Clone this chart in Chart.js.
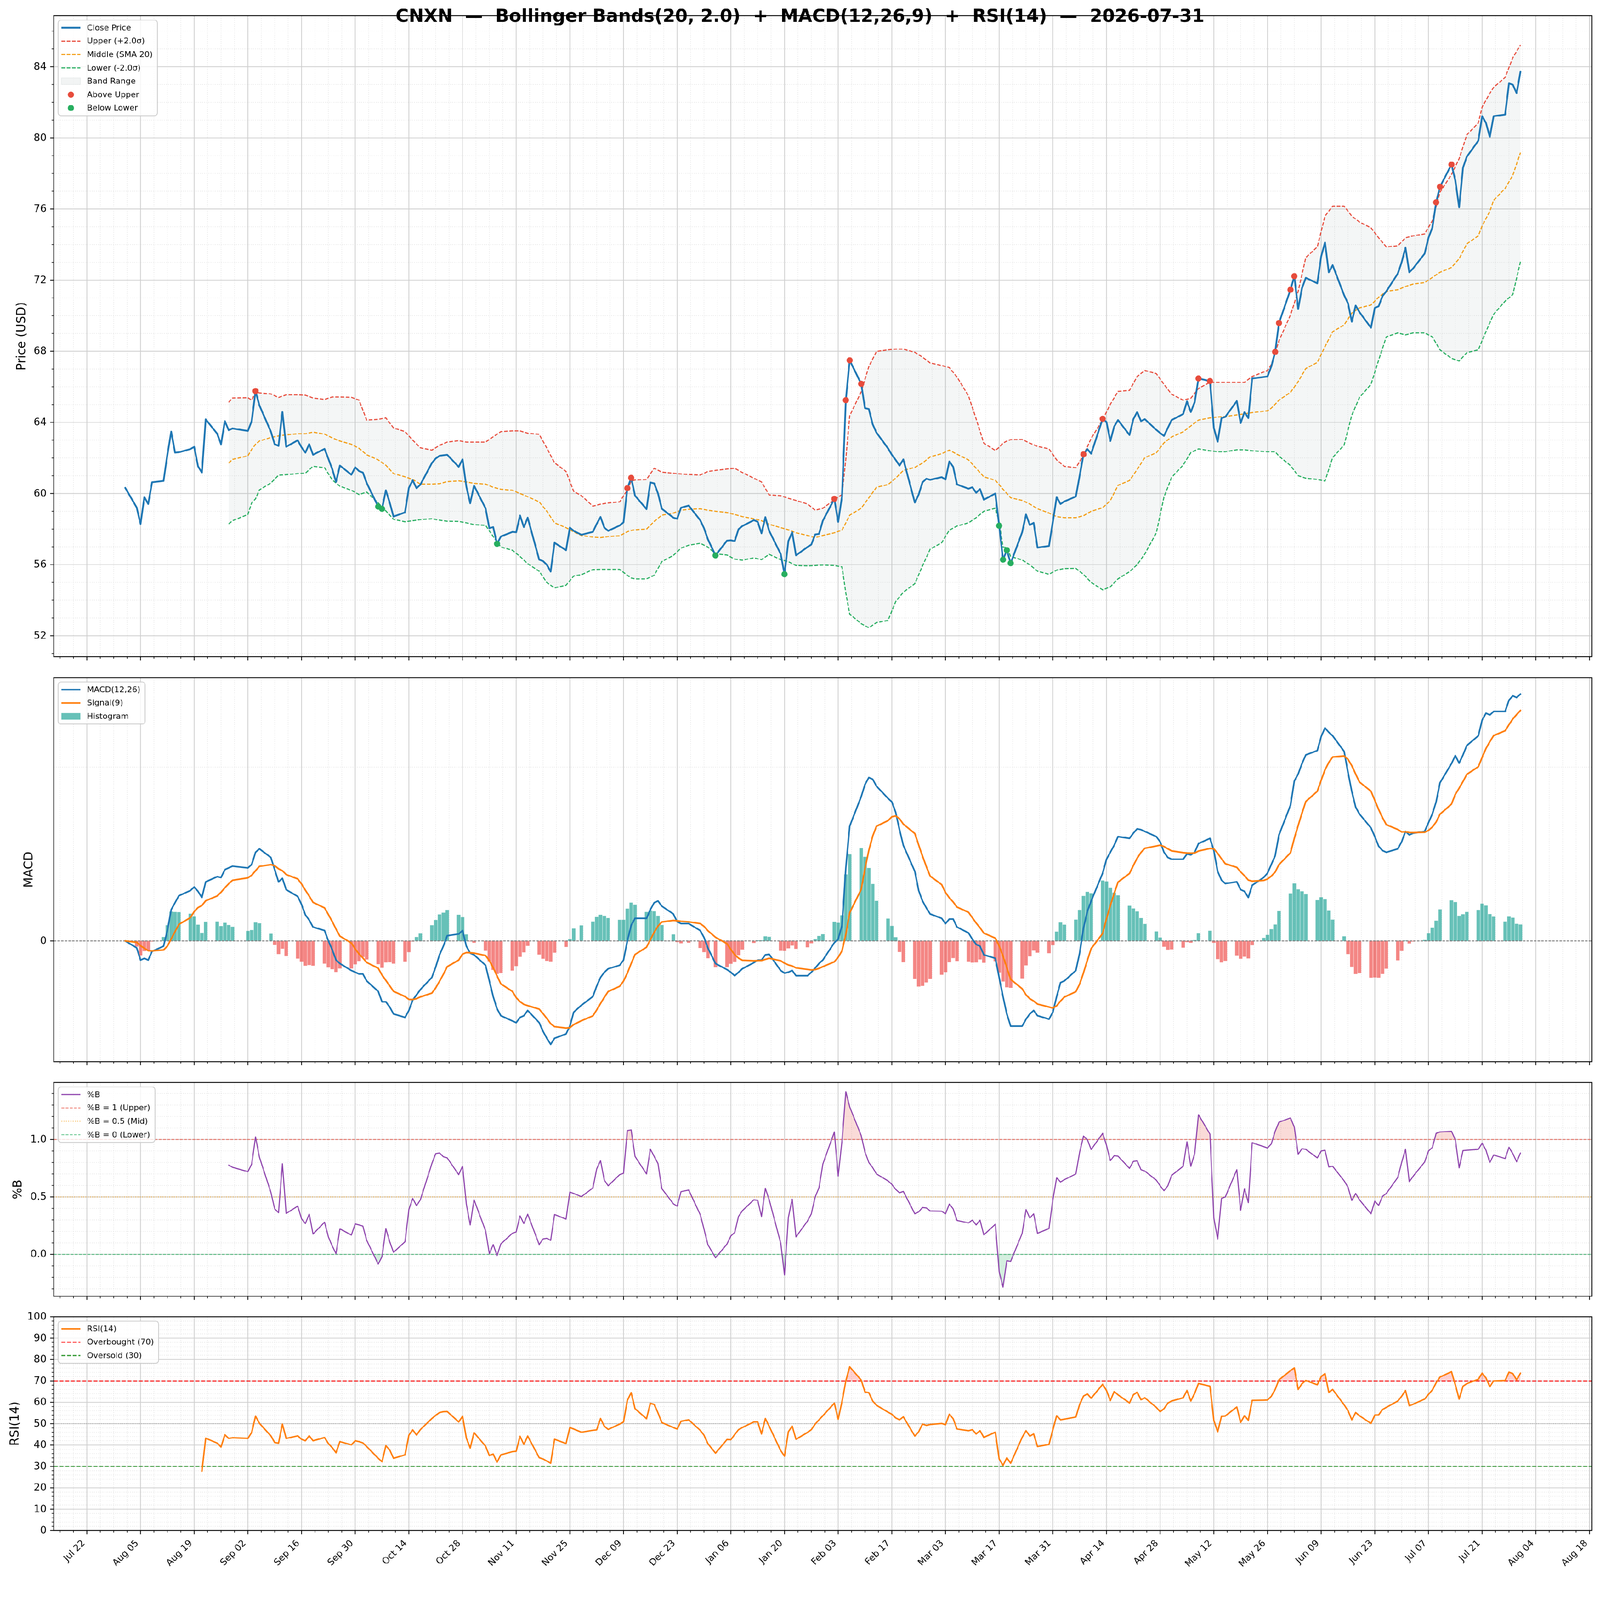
<!DOCTYPE html>
<html><head><meta charset="utf-8">
<script src="https://cdn.jsdelivr.net/npm/chart.js@4.4.1/dist/chart.umd.min.js"></script>
<style>
html,body{margin:0;padding:0;background:#fff;font-family:"DejaVu Sans",sans-serif;overflow:hidden;}
#stage{position:absolute;left:0;top:0;width:4378px;height:4322px;transform-origin:0 0;background:#fff;}
#stage canvas{position:absolute;left:0;}
</style></head><body>
<div id="stage">
<canvas id="cPrice"></canvas>
<canvas id="cMacd"></canvas>
<canvas id="cPctb"></canvas>
<canvas id="cRsi"></canvas>
</div>
<script>
// ---------------- DATA ----------------
const titleText = 'CNXN  \u2014  Bollinger Bands(20, 2.0)  +  MACD(12,26,9)  +  RSI(14)  \u2014  2026-07-31';

const dates = [
'2025-08-01','2025-08-04','2025-08-05','2025-08-06','2025-08-07','2025-08-08','2025-08-11','2025-08-12','2025-08-13','2025-08-14','2025-08-15','2025-08-18','2025-08-19','2025-08-20','2025-08-21','2025-08-22','2025-08-25','2025-08-26','2025-08-27','2025-08-28','2025-08-29',
'2025-09-02','2025-09-03','2025-09-04','2025-09-05','2025-09-08','2025-09-09','2025-09-10','2025-09-11','2025-09-12','2025-09-15','2025-09-16','2025-09-17','2025-09-18','2025-09-19','2025-09-22','2025-09-23','2025-09-24','2025-09-25','2025-09-26','2025-09-29','2025-09-30',
'2025-10-01','2025-10-02','2025-10-03','2025-10-06','2025-10-07','2025-10-08','2025-10-09','2025-10-10','2025-10-13','2025-10-14','2025-10-15','2025-10-16','2025-10-17','2025-10-20','2025-10-21','2025-10-22','2025-10-23','2025-10-24','2025-10-27','2025-10-28','2025-10-29','2025-10-30','2025-10-31',
'2025-11-03','2025-11-04','2025-11-05','2025-11-06','2025-11-07','2025-11-10','2025-11-11','2025-11-12','2025-11-13','2025-11-14','2025-11-17','2025-11-18','2025-11-19','2025-11-20','2025-11-21','2025-11-24','2025-11-25','2025-11-26','2025-11-28',
'2025-12-01','2025-12-02','2025-12-03','2025-12-04','2025-12-05','2025-12-08','2025-12-09','2025-12-10','2025-12-11','2025-12-12','2025-12-15','2025-12-16','2025-12-17','2025-12-18','2025-12-19','2025-12-22','2025-12-23','2025-12-24','2025-12-26','2025-12-29','2025-12-30','2025-12-31',
'2026-01-02','2026-01-05','2026-01-06','2026-01-07','2026-01-08','2026-01-09','2026-01-12','2026-01-13','2026-01-14','2026-01-15','2026-01-16','2026-01-19','2026-01-20','2026-01-21','2026-01-22','2026-01-23','2026-01-26','2026-01-27','2026-01-28','2026-01-29','2026-01-30',
'2026-02-02','2026-02-03','2026-02-04','2026-02-05','2026-02-06','2026-02-09','2026-02-10','2026-02-11','2026-02-12','2026-02-13','2026-02-16','2026-02-17','2026-02-18','2026-02-19','2026-02-20','2026-02-23','2026-02-24','2026-02-25','2026-02-26','2026-02-27',
'2026-03-02','2026-03-03','2026-03-04','2026-03-05','2026-03-06','2026-03-09','2026-03-10','2026-03-11','2026-03-12','2026-03-13','2026-03-16','2026-03-17','2026-03-18','2026-03-19','2026-03-20','2026-03-23','2026-03-24','2026-03-25','2026-03-26','2026-03-27','2026-03-30','2026-03-31',
'2026-04-01','2026-04-02','2026-04-03','2026-04-06','2026-04-07','2026-04-08','2026-04-09','2026-04-10','2026-04-13','2026-04-14','2026-04-15','2026-04-16','2026-04-17','2026-04-20','2026-04-21','2026-04-22','2026-04-23','2026-04-24','2026-04-27','2026-04-28','2026-04-29','2026-04-30',
'2026-05-01','2026-05-04','2026-05-05','2026-05-06','2026-05-07','2026-05-08','2026-05-11','2026-05-12','2026-05-13','2026-05-14','2026-05-15','2026-05-18','2026-05-19','2026-05-20','2026-05-21','2026-05-22','2026-05-25','2026-05-26','2026-05-27','2026-05-28','2026-05-29',
'2026-06-01','2026-06-02','2026-06-03','2026-06-04','2026-06-05','2026-06-08','2026-06-09','2026-06-10','2026-06-11','2026-06-12','2026-06-15','2026-06-16','2026-06-17','2026-06-18','2026-06-19','2026-06-22','2026-06-23','2026-06-24','2026-06-25','2026-06-26','2026-06-29','2026-06-30',
'2026-07-01','2026-07-02','2026-07-03','2026-07-06','2026-07-07','2026-07-08','2026-07-09','2026-07-10','2026-07-13','2026-07-14','2026-07-15','2026-07-16','2026-07-17','2026-07-20','2026-07-21','2026-07-22','2026-07-23','2026-07-24','2026-07-27','2026-07-28','2026-07-29','2026-07-30','2026-07-31'
];

const closePrice = [
60.32,59.21,58.29,59.80,59.41,60.63,60.71,62.18,63.48,62.30,62.32,62.50,62.62,61.53,61.18,64.17,63.36,62.77,64.07,63.56,63.66,
63.52,64.07,65.76,64.96,63.48,62.77,62.68,64.60,62.63,62.99,62.60,62.30,62.77,62.18,62.51,61.95,61.38,60.65,61.57,61.06,61.47,
61.26,61.18,60.59,59.26,59.14,60.18,59.49,58.70,58.94,60.32,60.74,60.30,60.50,61.71,61.97,62.12,62.15,62.18,61.50,61.92,60.39,59.45,60.44,
59.17,58.05,58.11,57.17,57.58,57.84,57.82,58.76,58.11,58.64,56.28,56.20,55.99,55.61,57.23,56.81,58.08,57.90,57.68,
57.84,58.29,58.68,58.08,57.90,58.20,58.38,60.30,60.88,59.88,59.12,60.62,60.57,60.00,59.14,58.64,58.58,59.20,59.32,58.50,58.05,57.43,
56.52,57.35,57.37,57.32,57.99,58.17,58.50,58.41,57.76,58.67,57.90,56.60,55.46,57.32,57.82,56.52,56.99,57.13,57.70,57.73,58.47,
59.70,58.40,59.82,65.25,67.49,66.17,64.80,64.75,63.89,63.42,62.54,62.18,61.89,61.57,61.92,59.49,59.94,60.63,60.83,60.77,
60.92,60.79,61.80,61.50,60.51,60.27,60.35,60.04,60.25,59.65,60.00,58.19,56.28,56.81,56.08,57.82,58.82,58.23,58.35,56.96,57.05,58.40,
59.80,59.41,59.55,59.83,61.00,62.20,62.50,62.24,64.20,64.02,62.95,63.76,64.13,63.29,64.18,64.58,64.07,64.18,63.58,63.40,63.24,63.69,
64.13,64.47,65.18,64.58,65.14,66.47,66.32,63.69,62.91,64.24,64.31,65.20,63.96,64.58,64.24,66.47,66.55,66.58,67.14,67.96,69.59,
71.46,72.22,70.37,71.55,72.13,71.82,73.33,74.11,72.44,72.84,71.15,70.70,69.66,70.57,70.20,69.32,70.44,70.53,71.10,71.37,72.37,73.00,
73.82,72.44,72.66,73.49,74.38,74.94,76.38,77.25,78.50,77.61,76.09,78.32,78.94,79.84,81.22,80.84,80.06,81.22,81.31,83.06,82.99,82.51,83.73
];

const bandDates = [
'2025-08-28','2025-08-29','2025-09-02','2025-09-03','2025-09-04','2025-09-05','2025-09-08','2025-09-10','2025-09-12','2025-09-15','2025-09-17','2025-09-19','2025-09-22','2025-09-24','2025-09-26','2025-09-29',
'2025-10-01','2025-10-03','2025-10-06','2025-10-08','2025-10-10','2025-10-13','2025-10-15','2025-10-17','2025-10-20','2025-10-22','2025-10-24','2025-10-27','2025-10-29','2025-10-31',
'2025-11-03','2025-11-05','2025-11-07','2025-11-10','2025-11-12','2025-11-14','2025-11-17','2025-11-19','2025-11-21','2025-11-24','2025-11-26','2025-11-28',
'2025-12-01','2025-12-03','2025-12-05','2025-12-08','2025-12-10','2025-12-11','2025-12-12','2025-12-15','2025-12-17','2025-12-19','2025-12-22','2025-12-24','2025-12-26','2025-12-29','2025-12-31',
'2026-01-02','2026-01-05','2026-01-07','2026-01-09','2026-01-12','2026-01-14','2026-01-16','2026-01-19','2026-01-21','2026-01-23','2026-01-26','2026-01-28','2026-01-30',
'2026-02-02','2026-02-04','2026-02-05','2026-02-06','2026-02-09','2026-02-11','2026-02-13','2026-02-16','2026-02-18','2026-02-20','2026-02-23','2026-02-25','2026-02-27',
'2026-03-02','2026-03-04','2026-03-06','2026-03-09','2026-03-11','2026-03-13','2026-03-16','2026-03-17','2026-03-18','2026-03-19','2026-03-20','2026-03-23','2026-03-25','2026-03-27','2026-03-30',
'2026-04-01','2026-04-03','2026-04-06','2026-04-08','2026-04-10','2026-04-13','2026-04-15','2026-04-17','2026-04-20','2026-04-22','2026-04-24','2026-04-27','2026-04-29',
'2026-05-01','2026-05-04','2026-05-06','2026-05-08','2026-05-11','2026-05-13','2026-05-15','2026-05-18','2026-05-20','2026-05-22','2026-05-26','2026-05-27','2026-05-28','2026-05-29',
'2026-06-01','2026-06-03','2026-06-05','2026-06-08','2026-06-10','2026-06-12','2026-06-15','2026-06-17','2026-06-19','2026-06-22','2026-06-24','2026-06-26','2026-06-29',
'2026-07-01','2026-07-03','2026-07-06','2026-07-08','2026-07-10','2026-07-13','2026-07-15','2026-07-17','2026-07-20','2026-07-21','2026-07-23','2026-07-24','2026-07-27','2026-07-29','2026-07-31'
];
const upperBand = [
65.13,65.37,65.39,65.25,65.70,65.66,65.60,65.40,65.55,65.55,65.53,65.37,65.29,65.43,65.43,65.41,
65.25,64.13,64.17,64.25,63.69,63.48,63.00,62.57,62.44,62.71,62.89,62.97,62.89,62.89,
62.89,63.19,63.48,63.52,63.52,63.39,63.33,62.55,61.73,61.24,60.12,59.88,
59.29,59.40,59.47,59.53,60.20,60.70,60.76,60.79,61.42,61.20,61.14,61.10,61.07,61.04,61.24,
61.30,61.38,61.42,61.18,60.86,60.65,59.92,59.88,59.73,59.61,59.41,59.06,59.17,
59.65,59.94,61.95,64.37,65.72,67.14,67.99,68.08,68.12,68.12,67.94,67.67,67.34,
67.20,67.08,66.55,65.49,64.19,62.83,62.42,62.60,62.83,62.95,63.03,63.04,62.83,62.65,62.51,
61.89,61.53,61.45,62.15,63.10,64.15,65.02,65.74,65.80,66.58,66.92,66.74,66.14,
65.58,65.25,65.36,65.91,66.25,66.25,66.25,66.25,66.25,66.58,66.92,67.25,67.92,68.59,
70.04,71.37,73.27,73.87,75.60,76.16,76.16,75.60,75.27,74.94,74.38,73.87,73.93,
74.38,74.49,74.60,75.34,76.94,77.94,78.83,80.17,80.84,81.73,82.51,82.84,83.40,84.51,85.22
];
const middleBand = [
61.71,61.92,62.12,62.48,62.77,62.95,63.15,63.24,63.30,63.36,63.36,63.45,63.34,63.13,62.95,62.77,
62.54,62.18,61.89,61.59,61.12,60.94,60.79,60.53,60.53,60.55,60.67,60.71,60.65,60.57,
60.53,60.35,60.24,60.18,60.00,59.82,59.53,59.00,58.35,58.08,57.84,57.64,
57.55,57.52,57.58,57.62,57.85,57.92,57.96,58.00,58.43,58.78,58.90,59.06,59.11,59.14,59.06,
59.00,58.93,58.82,58.70,58.58,58.47,58.27,58.08,57.96,57.79,57.64,57.52,57.64,
57.79,57.94,58.35,58.78,59.17,59.76,60.35,60.50,60.86,61.30,61.47,61.71,62.06,
62.24,62.44,62.21,61.89,61.42,60.94,60.74,60.50,60.24,60.00,59.76,59.61,59.41,59.14,58.90,
58.70,58.64,58.64,58.75,59.00,59.20,59.60,60.46,60.73,61.35,62.02,62.29,62.85,
63.18,63.47,63.80,64.13,64.25,64.30,64.33,64.42,64.48,64.55,64.65,64.80,65.02,65.25,
65.69,66.29,67.03,67.37,68.26,69.10,69.48,70.15,70.44,70.60,71.04,71.37,71.46,
71.64,71.78,71.86,72.15,72.44,72.71,73.20,74.04,74.49,75.05,75.87,76.49,77.16,77.90,79.17
];
const lowerBand = [
58.29,58.47,58.82,59.47,59.70,60.20,60.59,61.03,61.06,61.12,61.14,61.53,61.45,60.77,60.41,60.18,
59.94,60.08,59.47,59.02,58.55,58.41,58.47,58.53,58.58,58.50,58.44,58.43,58.35,58.25,
58.21,57.58,56.99,56.81,56.46,56.05,55.63,54.99,54.69,54.84,55.36,55.43,
55.72,55.73,55.73,55.73,55.40,55.25,55.20,55.20,55.40,56.17,56.52,56.93,57.09,57.20,56.99,
56.61,56.54,56.31,56.25,56.38,56.28,56.58,56.28,56.17,55.95,55.93,55.95,55.98,
55.95,55.87,54.40,53.22,52.68,52.45,52.74,52.86,53.92,54.45,54.93,55.93,56.87,
57.23,57.94,58.17,58.35,58.64,59.00,59.17,58.40,56.99,56.95,56.46,56.26,55.99,55.63,55.46,
55.69,55.78,55.79,55.45,55.00,54.58,54.75,55.20,55.60,56.00,56.60,57.79,59.80,
60.91,61.60,62.30,62.51,62.40,62.35,62.35,62.46,62.46,62.40,62.35,62.35,62.35,62.10,
61.57,61.00,60.86,60.79,60.70,62.02,62.73,64.40,65.40,66.14,67.50,68.81,69.03,
68.92,69.03,69.03,68.81,68.08,67.60,67.45,67.92,68.08,68.60,69.60,70.08,70.82,71.19,73.04
];

const aboveUpperDates = ['2025-09-04','2025-12-10','2025-12-11','2026-02-02','2026-02-05','2026-02-06','2026-02-09','2026-04-08','2026-04-13','2026-05-08','2026-05-11','2026-05-28','2026-05-29','2026-06-01','2026-06-02','2026-07-09','2026-07-10','2026-07-13'];
const belowLowerDates = ['2025-10-06','2025-10-07','2025-11-06','2026-01-02','2026-01-20','2026-03-17','2026-03-18','2026-03-19','2026-03-20'];

const macdLine = [
0.00,-0.04,-0.11,-0.10,-0.11,-0.06,-0.03,0.06,0.18,0.22,0.26,0.29,0.31,0.285,0.25,0.34,0.37,0.365,0.41,0.42,0.43,
0.42,0.44,0.51,0.53,0.48,0.41,0.34,0.36,0.295,0.256,0.21,0.15,0.12,0.08,0.06,0.00,-0.05,-0.11,-0.13,-0.17,-0.18,
-0.19,-0.19,-0.23,-0.29,-0.35,-0.35,-0.38,-0.42,-0.44,-0.40,-0.34,-0.31,-0.28,-0.21,-0.15,-0.08,-0.03,0.03,0.04,0.06,-0.03,-0.07,-0.08,
-0.14,-0.23,-0.32,-0.39,-0.43,-0.46,-0.47,-0.44,-0.43,-0.40,-0.47,-0.52,-0.56,-0.595,-0.56,-0.535,-0.49,-0.41,-0.37,
-0.32,-0.26,-0.21,-0.18,-0.16,-0.14,-0.11,0.00,0.09,0.13,0.13,0.18,0.22,0.23,0.20,0.155,0.11,0.10,0.10,0.06,0.02,-0.04,
-0.13,-0.165,-0.18,-0.20,-0.18,-0.16,-0.125,-0.11,-0.11,-0.08,-0.077,-0.17,-0.185,-0.18,-0.17,-0.20,-0.20,-0.18,-0.156,-0.13,-0.11,
-0.01,0.01,0.09,0.42,0.66,0.83,0.90,0.94,0.93,0.89,0.82,0.80,0.74,0.64,0.55,0.40,0.29,0.23,0.19,0.155,
0.13,0.10,0.126,0.126,0.08,0.046,0.01,-0.02,-0.03,-0.08,-0.10,-0.21,-0.32,-0.42,-0.49,-0.49,-0.45,-0.42,-0.40,-0.43,-0.45,-0.41,
-0.32,-0.24,-0.23,-0.17,-0.07,0.075,0.17,0.23,0.39,0.47,0.51,0.55,0.60,0.59,0.62,0.645,0.64,0.63,0.60,0.57,0.51,0.48,
0.47,0.47,0.50,0.495,0.51,0.56,0.59,0.52,0.40,0.35,0.33,0.34,0.295,0.285,0.25,0.32,0.365,0.39,0.44,0.49,0.61,
0.78,0.92,0.96,1.02,1.07,1.095,1.175,1.225,1.20,1.18,1.09,0.97,0.86,0.77,0.73,0.65,0.60,0.545,0.52,0.51,0.53,0.57,
0.63,0.61,0.62,0.63,0.68,0.73,0.80,0.91,1.02,1.066,1.023,1.07,1.124,1.18,1.27,1.31,1.30,1.32,1.32,1.385,1.41,1.40,1.42
];
const signalLine = [
0.00,-0.008,-0.028,-0.042,-0.056,-0.057,-0.052,-0.03,0.012,0.054,0.095,0.134,0.169,0.192,0.204,0.231,0.259,0.28,0.306,0.329,0.349,
0.363,0.378,0.404,0.429,0.439,0.433,0.415,0.404,0.382,0.357,0.328,0.292,0.258,0.222,0.19,0.152,0.112,0.068,0.028,-0.012,-0.046,
-0.075,-0.098,-0.124,-0.157,-0.196,-0.227,-0.258,-0.29,-0.32,-0.336,-0.337,-0.332,-0.322,-0.30,-0.27,-0.232,-0.192,-0.148,-0.11,-0.076,-0.067,-0.068,-0.07,
-0.084,-0.113,-0.154,-0.201,-0.247,-0.29,-0.326,-0.349,-0.365,-0.372,-0.392,-0.418,-0.446,-0.476,-0.493,-0.501,-0.499,-0.481,-0.459,
-0.431,-0.397,-0.36,-0.324,-0.291,-0.261,-0.231,-0.185,-0.13,-0.078,-0.036,0.007,0.05,0.086,0.109,0.118,0.116,0.113,0.11,0.10,0.084,0.059,
0.021,-0.016,-0.049,-0.079,-0.099,-0.111,-0.114,-0.113,-0.113,-0.106,-0.10,-0.114,-0.128,-0.138,-0.144,-0.155,-0.164,-0.167,-0.165,-0.158,-0.148,
-0.12,-0.094,-0.057,0.038,0.162,0.296,0.417,0.521,0.603,0.66,0.692,0.714,0.719,0.703,0.672,0.618,0.552,0.488,0.428,0.373,
0.324,0.279,0.248,0.224,0.195,0.165,0.134,0.103,0.076,0.045,0.016,-0.029,-0.087,-0.154,-0.221,-0.275,-0.31,-0.332,-0.346,-0.363,-0.38,-0.386,
-0.373,-0.346,-0.323,-0.292,-0.248,-0.183,-0.112,-0.044,0.043,0.128,0.204,0.273,0.338,0.388,0.434,0.476,0.509,0.533,0.546,0.551,0.543,0.53,
0.518,0.508,0.506,0.505,0.506,0.517,0.532,0.53,0.504,0.473,0.444,0.423,0.397,0.375,0.35,0.344,0.348,0.356,0.373,0.396,0.439,
0.507,0.59,0.664,0.735,0.802,0.861,0.924,0.984,1.027,1.058,1.064,1.045,1.008,0.96,0.914,0.861,0.809,0.756,0.709,0.669,0.641,0.627,
0.628,0.624,0.623,0.625,0.636,0.655,0.684,0.729,0.787,0.843,0.879,0.917,0.958,1.002,1.056,1.107,1.146,1.181,1.209,1.244,1.277,1.302,1.326
];
const macdHist = [
0.00,-0.032,-0.082,-0.058,-0.054,-0.003,0.022,0.09,0.168,0.166,0.165,0.156,0.141,0.093,0.046,0.109,0.111,0.085,0.104,0.091,0.081,
0.057,0.062,0.106,0.101,0.041,-0.023,-0.075,-0.044,-0.087,-0.101,-0.118,-0.142,-0.138,-0.142,-0.13,-0.152,-0.162,-0.178,-0.158,-0.158,-0.134,
-0.115,-0.092,-0.106,-0.133,-0.154,-0.123,-0.122,-0.13,-0.12,-0.064,-0.003,0.022,0.042,0.09,0.12,0.152,0.162,0.178,0.15,0.136,0.037,-0.002,-0.01,
-0.056,-0.117,-0.166,-0.189,-0.183,-0.17,-0.144,-0.091,-0.065,-0.028,-0.078,-0.102,-0.114,-0.119,-0.067,-0.034,0.009,0.071,0.089,
0.111,0.137,0.15,0.144,0.131,0.121,0.121,0.185,0.22,0.208,0.166,0.173,0.17,0.144,0.091,0.037,-0.006,-0.013,-0.01,-0.04,-0.064,-0.099,
-0.151,-0.149,-0.131,-0.121,-0.081,-0.049,-0.011,0.003,0.003,0.026,0.023,-0.056,-0.057,-0.042,-0.026,-0.045,-0.036,-0.013,0.009,0.028,0.038,
0.11,0.104,0.147,0.382,0.498,0.534,0.483,0.419,0.327,0.23,0.128,0.086,0.021,-0.063,-0.122,-0.218,-0.262,-0.258,-0.238,-0.218,
-0.194,-0.179,-0.122,-0.098,-0.115,-0.119,-0.124,-0.123,-0.106,-0.125,-0.116,-0.181,-0.233,-0.266,-0.269,-0.215,-0.14,-0.088,-0.054,-0.067,-0.07,-0.024,
0.053,0.106,0.093,0.122,0.178,0.258,0.282,0.274,0.347,0.342,0.306,0.277,0.262,0.202,0.186,0.169,0.131,0.097,0.054,0.019,-0.033,-0.05,
-0.048,-0.038,-0.006,-0.01,0.004,0.043,0.058,-0.01,-0.104,-0.123,-0.114,-0.083,-0.102,-0.09,-0.10,-0.024,0.017,0.034,0.067,0.094,0.171,
0.273,0.33,0.296,0.285,0.268,0.234,0.251,0.241,0.173,0.122,0.026,-0.075,-0.148,-0.19,-0.184,-0.211,-0.209,-0.211,-0.189,-0.159,-0.111,-0.057,
0.002,-0.014,-0.003,0.005,0.044,0.075,0.116,0.181,0.233,0.223,0.144,0.153,0.166,0.178,0.214,0.203,0.154,0.139,0.111,0.141,0.133,0.098,0.094
];

const percentB = [
null,null,null,null,null,null,null,null,null,null,null,null,null,null,null,null,null,null,null,0.777,0.758,
0.72,0.786,1.023,0.847,0.54,0.396,0.363,0.789,0.356,0.42,0.31,0.268,0.35,0.177,0.28,0.152,0.073,0.006,0.222,0.168,0.265,
0.256,0.246,0.122,-0.085,-0.02,0.225,0.11,0.018,0.11,0.39,0.487,0.424,0.475,0.79,0.877,0.883,0.85,0.84,0.694,0.767,0.438,0.256,0.475,
0.207,0.006,0.085,-0.01,0.091,0.183,0.195,0.335,0.268,0.35,0.085,0.134,0.14,0.122,0.347,0.307,0.542,0.53,0.502,
0.578,0.743,0.816,0.646,0.597,0.694,0.706,1.078,1.084,0.853,0.70,0.916,0.853,0.79,0.572,0.44,0.42,0.546,0.56,0.347,0.22,0.085,
-0.03,0.09,0.16,0.19,0.33,0.38,0.475,0.47,0.33,0.575,0.475,0.10,-0.18,0.32,0.48,0.152,0.29,0.353,0.50,0.58,0.786,
1.066,0.682,0.987,1.417,1.285,1.035,0.89,0.80,0.755,0.70,0.64,0.61,0.566,0.536,0.548,0.353,0.37,0.408,0.404,0.378,
0.375,0.353,0.438,0.396,0.295,0.274,0.298,0.256,0.298,0.17,0.262,-0.15,-0.286,-0.055,-0.061,0.183,0.39,0.317,0.353,0.183,0.225,0.475,
0.667,0.63,0.65,0.70,0.889,1.03,0.999,0.913,1.054,0.95,0.816,0.859,0.855,0.749,0.81,0.814,0.737,0.725,0.646,0.597,0.554,0.597,
0.688,0.767,0.98,0.767,0.877,1.216,1.047,0.317,0.134,0.487,0.50,0.737,0.384,0.572,0.45,0.972,0.938,0.926,0.962,1.072,1.151,
1.188,1.108,0.871,0.92,0.914,0.84,0.90,0.907,0.761,0.767,0.64,0.585,0.469,0.53,0.475,0.353,0.463,0.426,0.505,0.53,0.67,0.80,
0.914,0.633,0.68,0.804,0.90,0.93,1.054,1.066,1.072,0.999,0.753,0.904,0.907,0.914,0.968,0.907,0.80,0.865,0.834,0.932,0.877,0.806,0.883
];

const rsi14 = [
null,null,null,null,null,null,null,null,null,null,null,null,null,null,27.8,43.2,40.9,39.1,44.8,43.1,43.4,
43.1,45.9,53.5,50.2,44.3,41.2,40.9,49.8,43.1,44.3,42.7,42.0,44.3,42.0,43.5,40.7,38.8,36.4,41.6,40.1,42.0,
41.6,41.0,39.3,33.8,32.2,39.7,37.7,33.8,35.4,44.6,47.1,44.7,47.2,52.4,53.9,55.2,55.6,55.7,50.8,53.4,43.3,38.6,45.8,
39.5,35.1,35.8,32.0,35.4,36.9,37.1,44.1,40.3,44.2,34.1,33.5,32.5,31.5,42.7,40.7,48.2,47.5,46.0,
46.9,47.1,52.4,48.8,47.3,49.8,50.8,60.9,64.5,57.0,52.3,59.5,59.0,55.0,50.5,48.2,47.5,51.1,51.8,46.9,44.6,40.7,
36.2,42.6,42.5,44.9,47.2,48.2,50.8,50.8,45.2,52.4,48.8,37.4,34.8,46.2,48.8,42.7,45.9,47.2,49.8,51.8,53.7,
59.6,52.1,60.3,70.0,76.6,70.4,64.8,64.5,60.6,58.6,55.4,54.4,52.7,51.8,53.2,44.2,46.2,49.8,49.2,49.6,
50.1,49.5,54.4,52.3,47.5,46.7,47.2,45.2,46.7,43.6,46.0,33.5,30.5,34.0,31.5,43.6,46.7,44.2,45.2,39.3,40.3,47.2,
53.7,51.8,52.1,53.1,59.0,62.9,63.9,61.9,68.4,65.5,60.8,65.0,63.5,59.7,63.5,64.7,61.2,62.1,57.6,55.6,57.0,59.6,
60.6,62.1,65.5,60.6,64.2,68.8,67.5,51.5,46.2,53.4,53.6,57.8,50.6,53.7,51.6,60.9,61.0,61.05,62.8,66.0,70.5,
74.8,76.1,66.0,68.7,70.2,68.2,72.0,73.4,64.6,66.0,58.8,56.1,51.8,55.2,53.7,50.1,54.0,54.1,56.6,57.6,60.6,62.8,
65.5,58.4,59.1,61.5,63.7,65.7,69.1,71.8,74.3,68.2,61.5,67.5,68.7,70.8,73.6,71.4,67.3,70.0,70.2,74.1,73.4,70.5,73.6
];

// axis ticks
const xTickDates = ['2025-07-22','2025-08-05','2025-08-19','2025-09-02','2025-09-16','2025-09-30','2025-10-14','2025-10-28','2025-11-11','2025-11-25','2025-12-09','2025-12-23','2026-01-06','2026-01-20','2026-02-03','2026-02-17','2026-03-03','2026-03-17','2026-03-31','2026-04-14','2026-04-28','2026-05-12','2026-05-26','2026-06-09','2026-06-23','2026-07-07','2026-07-21','2026-08-04','2026-08-18'];
const xTickLabels = ['Jul 22','Aug 05','Aug 19','Sep 02','Sep 16','Sep 30','Oct 14','Oct 28','Nov 11','Nov 25','Dec 09','Dec 23','Jan 06','Jan 20','Feb 03','Feb 17','Mar 03','Mar 17','Mar 31','Apr 14','Apr 28','May 12','May 26','Jun 09','Jun 23','Jul 07','Jul 21','Aug 04','Aug 18'];
const priceTicks = [52,56,60,64,68,72,76,80,84];
const priceTickLabels = ['52','56','60','64','68','72','76','80','84'];
const macdTicks = [0];
const macdTickLabels = ['0'];
const pctbTicks = [0,0.5,1.0];
const pctbTickLabels = ['0.0','0.5','1.0'];
const rsiTicks = [0,10,20,30,40,50,60,70,80,90,100];
const rsiTickLabels = ['0','10','20','30','40','50','60','70','80','90','100'];

// ---------------- HELPERS ----------------
const W = 4378, H = 4322, PLOT_L = 147, PLOT_R = 4356;
const FONT = '"DejaVu Sans"';
Chart.defaults.font.family = FONT;
// fit the 4378x4322 design into whatever viewport the page actually gets
(function(){
  const vw = window.innerWidth || document.documentElement.clientWidth || W;
  const vh = window.innerHeight || document.documentElement.clientHeight || H;
  const s = Math.min(vw / W, vh / H);
  document.getElementById('stage').style.transform = 'scale(' + s + ')';
})();

function dnum(s){const p=s.split('-').map(Number);return Date.UTC(p[0],p[1]-1,p[2])/86400000;}
const X_MIN = dnum('2025-08-01') - 18.65, X_MAX = dnum('2026-07-31') + 18.65;
const X_MAJOR = xTickDates.map(dnum);
const X_MINOR = [];
for (let v = X_MAJOR[0]; v >= X_MIN; v -= 3.5) X_MINOR.push(v);
for (let v = X_MAJOR[0] + 3.5; v <= X_MAX; v += 3.5) X_MINOR.push(v);
const X_MINOR_ONLY = X_MINOR.filter(v => !X_MAJOR.some(m => Math.abs(m - v) < 0.01));

const xs = dates.map(dnum);
const pts = vals => vals.map((v,i)=> v==null ? null : {x:xs[i], y:v}).filter(p=>p);
const bandX = bandDates.map(dnum);
const bandPts = vals => vals.map((v,i)=>({x:bandX[i], y:v}));
const markerPts = list => list.map(d => ({x:dnum(d), y:closePrice[dates.indexOf(d)]}));
function range(a,b,step,excl){const out=[];for(let k=0;;k++){const v=+(a+k*step).toFixed(6);if(v>b+1e-9)break;if(!excl.some(e=>Math.abs(e-v)<1e-6))out.push(v);}return out;}

function hline(ctx,a,py){ctx.beginPath();ctx.moveTo(a.left,py);ctx.lineTo(a.right,py);ctx.stroke();}
function vline(ctx,a,px){ctx.beginPath();ctx.moveTo(px,a.top);ctx.lineTo(px,a.bottom);ctx.stroke();}
function seg(ctx,x0,y0,x1,y1){ctx.beginPath();ctx.moveTo(x0,y0);ctx.lineTo(x1,y1);ctx.stroke();}
function rrect(ctx,x,y,w,h,r){ctx.beginPath();ctx.moveTo(x+r,y);ctx.lineTo(x+w-r,y);ctx.arcTo(x+w,y,x+w,y+r,r);ctx.lineTo(x+w,y+h-r);ctx.arcTo(x+w,y+h,x+w-r,y+h,r);ctx.lineTo(x+r,y+h);ctx.arcTo(x,y+h,x,y+h-r,r);ctx.lineTo(x,y+r);ctx.arcTo(x,y,x+r,y,r);ctx.closePath();}

function drawLegend(ctx,a,items){
  ctx.save();
  ctx.font = '22px ' + FONT;
  const left=a.left+12, top=a.top+12, pitch=36.6;
  let maxW=0; items.forEach(it=>{maxW=Math.max(maxW,ctx.measureText(it.label).width);});
  const w=79+maxW+13, h=42+(items.length-1)*pitch;
  rrect(ctx,left,top,w,h,8);
  ctx.fillStyle='rgba(255,255,255,0.8)'; ctx.fill();
  ctx.strokeStyle='#cccccc'; ctx.lineWidth=2.2; ctx.stroke();
  items.forEach((it,i)=>{
    const cy=top+21+i*pitch, hx0=left+9, hx1=left+61;
    if(it.type==='line'){ctx.strokeStyle=it.color;ctx.lineWidth=it.width;ctx.setLineDash(it.dash||[]);seg(ctx,hx0,cy,hx1,cy);ctx.setLineDash([]);}
    else if(it.type==='rect'){ctx.fillStyle=it.color;ctx.fillRect(hx0,cy-9,hx1-hx0,18);if(it.edge){ctx.strokeStyle=it.edge;ctx.lineWidth=1.5;ctx.strokeRect(hx0,cy-9,hx1-hx0,18);}}
    else if(it.type==='dot'){ctx.fillStyle=it.color;ctx.beginPath();ctx.arc((hx0+hx1)/2,cy,8.5,0,Math.PI*2);ctx.fill();}
    ctx.fillStyle='#000';ctx.textAlign='left';ctx.textBaseline='middle';ctx.fillText(it.label,left+79,cy+1);
  });
  ctx.restore();
}

function makeDecor(cfg){
  return {
    id:'decor',
    beforeDatasetsDraw(chart){
      const ctx=chart.ctx,a=chart.chartArea,sx=chart.scales.x,sy=chart.scales.y;
      ctx.save();
      ctx.beginPath();ctx.rect(a.left,a.top,a.right-a.left,a.bottom-a.top);ctx.clip();
      ctx.lineWidth=1.4;ctx.strokeStyle='#dedede';ctx.setLineDash([2.2,3.6]);
      X_MINOR_ONLY.forEach(v=>vline(ctx,a,sx.getPixelForValue(v)));
      cfg.yMinorGrid.forEach(v=>hline(ctx,a,sy.getPixelForValue(v)));
      ctx.setLineDash([]);ctx.lineWidth=2.2;ctx.strokeStyle='#cfcfcf';
      X_MAJOR.forEach(v=>vline(ctx,a,sx.getPixelForValue(v)));
      cfg.yMajorGrid.forEach(v=>hline(ctx,a,sy.getPixelForValue(v)));
      (cfg.refLines||[]).forEach(r=>{ctx.strokeStyle=r.color;ctx.lineWidth=r.width;ctx.setLineDash(r.dash||[]);hline(ctx,a,sy.getPixelForValue(r.value));});
      ctx.restore();
    },
    afterDatasetDraw(chart,args){
      if(cfg.lineAfter && args.index===cfg.lineAfter.index){
        const ctx=chart.ctx,a=chart.chartArea,sy=chart.scales.y,r=cfg.lineAfter;
        ctx.save();ctx.strokeStyle=r.color;ctx.lineWidth=r.width;ctx.setLineDash(r.dash);hline(ctx,a,sy.getPixelForValue(r.value));ctx.restore();
      }
    },
    afterDraw(chart){
      const ctx=chart.ctx,a=chart.chartArea,sx=chart.scales.x,sy=chart.scales.y;
      ctx.save();
      ctx.setLineDash([]);ctx.strokeStyle='#000';
      ctx.lineWidth=1.7;
      X_MINOR_ONLY.forEach(v=>{const p=sx.getPixelForValue(v);if(p<a.left-0.5||p>a.right+0.5)return;seg(ctx,p,a.bottom,p,a.bottom+5.6);});
      ctx.lineWidth=2.2;
      X_MAJOR.forEach(v=>{const p=sx.getPixelForValue(v);if(p<a.left-0.5||p>a.right+0.5)return;seg(ctx,p,a.bottom,p,a.bottom+9.7);});
      ctx.lineWidth=1.7;
      cfg.yMinorTicks.forEach(v=>{const p=sy.getPixelForValue(v);seg(ctx,a.left,p,a.left-5.6,p);});
      ctx.lineWidth=2.2;
      cfg.yTicks.forEach(v=>{const p=sy.getPixelForValue(v);seg(ctx,a.left,p,a.left-9.7,p);});
      ctx.lineWidth=2.4;ctx.strokeRect(a.left,a.top,a.right-a.left,a.bottom-a.top);
      ctx.fillStyle='#000';ctx.font='28px '+FONT;ctx.textAlign='right';ctx.textBaseline='middle';
      cfg.yTicks.forEach((v,i)=>ctx.fillText(cfg.yTickLabels[i],a.left-19.4,sy.getPixelForValue(v)+1));
      ctx.save();ctx.translate(cfg.ylabelX,(a.top+a.bottom)/2);ctx.rotate(-Math.PI/2);
      ctx.font='33px '+FONT;ctx.textAlign='center';ctx.textBaseline='middle';ctx.fillText(cfg.ylabel,0,0);ctx.restore();
      if(cfg.xLabels){
        ctx.font='25px '+FONT;ctx.textAlign='right';ctx.textBaseline='bottom';
        const y0=a.bottom+19.4, hh=25*1.164/Math.SQRT2;
        X_MAJOR.forEach((v,i)=>{const p=sx.getPixelForValue(v);if(p<a.left-0.5||p>a.right+0.5)return;
          ctx.save();ctx.translate(p,y0+hh);ctx.rotate(-Math.PI/4);ctx.fillText(xTickLabels[i],0,0);ctx.restore();});
      }
      drawLegend(ctx,a,cfg.legend);
      if(cfg.title){
        ctx.font='bold 49px '+FONT;ctx.textAlign='center';ctx.textBaseline='alphabetic';ctx.fillStyle='#000';
        ctx.fillText(cfg.title,W/2,60);
      }
      ctx.restore();
    }
  };
}

function makeChart(id,g,datasets,yMin,yMax,decor){
  const cv=document.getElementById(id);
  cv.width=W;cv.height=g.h;cv.style.top=g.top+'px';cv.style.width=W+'px';cv.style.height=g.h+'px';
  return new Chart(cv,{
    type:'line',
    data:{datasets},
    options:{
      responsive:false,animation:false,devicePixelRatio:1,events:[],
      layout:{padding:{left:PLOT_L,right:W-PLOT_R,top:g.areaTop-g.top,bottom:g.top+g.h-g.areaBot}},
      scales:{
        x:{type:'linear',min:X_MIN,max:X_MAX,display:false,offset:false},
        y:{type:'linear',min:yMin,max:yMax,display:false}
      },
      plugins:{legend:{display:false},tooltip:{enabled:false},title:{display:false}},
      elements:{point:{radius:0},line:{tension:0,borderJoinStyle:'round',borderCapStyle:'round'}}
    },
    plugins:[makeDecor(decor)]
  });
}

const dashBand=[10,4.5];
const noLine='rgba(0,0,0,0)';
const LW_CLOSE=4.8, LW_BAND=3.0, LW_MACD=4.4, LW_PCTB=3.0, LW_RSI=4.0;

// ---------------- PRICE PANEL ----------------
makeChart('cPrice',{top:0,h:1830,areaTop:43,areaBot:1797},[
  {data:bandPts(lowerBand),borderColor:'#27ae60',borderWidth:LW_BAND,borderDash:dashBand,borderCapStyle:'butt',pointRadius:0,fill:false,order:5},
  {data:bandPts(upperBand),borderColor:noLine,borderWidth:0,backgroundColor:'rgba(149,165,166,0.1)',pointRadius:0,fill:'-1',order:6},
  {data:bandPts(middleBand),borderColor:'#f39c12',borderWidth:LW_BAND,borderDash:dashBand,borderCapStyle:'butt',pointRadius:0,fill:false,order:4},
  {data:bandPts(upperBand),borderColor:'#e74c3c',borderWidth:LW_BAND,borderDash:dashBand,borderCapStyle:'butt',pointRadius:0,fill:false,order:3},
  {data:pts(closePrice),borderColor:'#1f77b4',borderWidth:LW_CLOSE,pointRadius:0,fill:false,order:2},
  {type:'scatter',data:markerPts(aboveUpperDates),backgroundColor:'#e74c3c',borderWidth:0,pointRadius:8.5,order:1},
  {type:'scatter',data:markerPts(belowLowerDates),backgroundColor:'#27ae60',borderWidth:0,pointRadius:8.5,order:0}
],50.82,86.87,{
  yTicks:priceTicks,yTickLabels:priceTickLabels,yMajorGrid:priceTicks,
  yMinorTicks:range(51,86,1,priceTicks),yMinorGrid:range(51,86,1,priceTicks),
  ylabel:'Price (USD)',ylabelX:60,title:titleText,
  legend:[
    {type:'line',color:'#1f77b4',width:LW_CLOSE,label:'Close Price'},
    {type:'line',color:'#e74c3c',width:LW_BAND,dash:dashBand,label:'Upper (+2.0\u03c3)'},
    {type:'line',color:'#f39c12',width:LW_BAND,dash:dashBand,label:'Middle (SMA 20)'},
    {type:'line',color:'#27ae60',width:LW_BAND,dash:dashBand,label:'Lower (-2.0\u03c3)'},
    {type:'rect',color:'rgba(149,165,166,0.12)',edge:'rgba(149,165,166,0.18)',label:'Band Range'},
    {type:'dot',color:'#e74c3c',label:'Above Upper'},
    {type:'dot',color:'#27ae60',label:'Below Lower'}
  ]
});

// ---------------- MACD PANEL ----------------
makeChart('cMacd',{top:1830,h:1105,areaTop:1854,areaBot:2905},[
  {type:'bar',data:pts(macdHist),backgroundColor:macdHist.map(v=>v>=0?'rgba(38,166,154,0.7)':'rgba(239,83,80,0.7)'),borderWidth:0,barThickness:9,grouped:false,order:3},
  {data:pts(macdLine),borderColor:'#1f77b4',borderWidth:LW_MACD,pointRadius:0,fill:false,order:1},
  {data:pts(signalLine),borderColor:'#ff7f0e',borderWidth:LW_MACD,pointRadius:0,fill:false,order:0}
],-0.6945,1.515,{
  yTicks:macdTicks,yTickLabels:macdTickLabels,yMajorGrid:[],
  yMinorTicks:[],yMinorGrid:[1.0],
  lineAfter:{index:0,value:0,color:'rgba(128,128,128,0.9)',width:2.8,dash:[7,3]},
  ylabel:'MACD',ylabelX:80,
  legend:[
    {type:'line',color:'#1f77b4',width:LW_MACD,label:'MACD(12,26)'},
    {type:'line',color:'#ff7f0e',width:LW_MACD,label:'Signal(9)'},
    {type:'rect',color:'rgba(38,166,154,0.7)',label:'Histogram'}
  ]
});

// ---------------- %B PANEL ----------------
makeChart('cPctb',{top:2935,h:640,areaTop:2962,areaBot:3547},[
  {data:pts(percentB),borderColor:noLine,borderWidth:0,pointRadius:0,fill:{target:{value:1},above:'rgba(231,76,60,0.2)',below:'rgba(0,0,0,0)'},order:3},
  {data:pts(percentB),borderColor:noLine,borderWidth:0,pointRadius:0,fill:{target:{value:0},above:'rgba(0,0,0,0)',below:'rgba(39,174,96,0.2)'},order:2},
  {data:pts(percentB),borderColor:'#8e44ad',borderWidth:LW_PCTB,pointRadius:0,fill:false,order:0}
],-0.3654,1.4965,{
  yTicks:pctbTicks,yTickLabels:pctbTickLabels,yMajorGrid:pctbTicks,
  yMinorTicks:range(-0.3,1.4,0.1,pctbTicks),yMinorGrid:range(-0.3,1.4,0.1,pctbTicks),
  refLines:[
    {value:1,color:'rgba(231,76,60,0.7)',width:2.6,dash:[8,3.5]},
    {value:0.5,color:'rgba(243,156,18,0.7)',width:2.6,dash:[2.4,3.8]},
    {value:0,color:'rgba(39,174,96,0.7)',width:2.6,dash:[8,3.5]}
  ],
  ylabel:'%B',ylabelX:50,
  legend:[
    {type:'line',color:'#8e44ad',width:LW_PCTB,label:'%B'},
    {type:'line',color:'rgba(231,76,60,0.7)',width:2.2,dash:[8,3.5],label:'%B = 1 (Upper)'},
    {type:'line',color:'rgba(243,156,18,0.7)',width:2.2,dash:[2.4,3.8],label:'%B = 0.5 (Mid)'},
    {type:'line',color:'rgba(39,174,96,0.7)',width:2.2,dash:[8,3.5],label:'%B = 0 (Lower)'}
  ]
});

// ---------------- RSI PANEL ----------------
makeChart('cRsi',{top:3575,h:747,areaTop:3603,areaBot:4188},[
  {data:pts(rsi14),borderColor:noLine,borderWidth:0,pointRadius:0,fill:{target:{value:70},above:'rgba(255,0,0,0.18)',below:'rgba(0,0,0,0)'},order:3},
  {data:pts(rsi14),borderColor:noLine,borderWidth:0,pointRadius:0,fill:{target:{value:30},above:'rgba(0,0,0,0)',below:'rgba(0,128,0,0.18)'},order:2},
  {data:pts(rsi14),borderColor:'#ff7f0e',borderWidth:LW_RSI,pointRadius:0,fill:false,order:0}
],0,100,{
  yTicks:rsiTicks,yTickLabels:rsiTickLabels,yMajorGrid:rsiTicks,
  yMinorTicks:range(0,100,2,rsiTicks),yMinorGrid:range(0,100,2,rsiTicks),
  refLines:[
    {value:50,color:'rgba(128,128,128,0.6)',width:2.2,dash:[2.2,3]},
    {value:70,color:'rgba(255,0,0,0.8)',width:3.2,dash:[11,4.5]},
    {value:30,color:'rgba(0,128,0,0.8)',width:3.2,dash:[11,4.5]}
  ],
  ylabel:'RSI(14)',ylabelX:42,xLabels:true,
  legend:[
    {type:'line',color:'#ff7f0e',width:LW_RSI,label:'RSI(14)'},
    {type:'line',color:'rgba(255,0,0,0.8)',width:3.2,dash:[11,4.5],label:'Overbought (70)'},
    {type:'line',color:'rgba(0,128,0,0.8)',width:3.2,dash:[11,4.5],label:'Oversold (30)'}
  ]
});

[['close',closePrice],['macd',macdLine],['signal',signalLine],['hist',macdHist],['pctb',percentB],['rsi',rsi14]].forEach(([n,a])=>{if(a.length!==dates.length)console.error('length mismatch',n,a.length,dates.length);});
[['upper',upperBand],['middle',middleBand],['lower',lowerBand]].forEach(([n,a])=>{if(a.length!==bandDates.length)console.error('band mismatch',n,a.length,bandDates.length);});
</script>
</body></html>
